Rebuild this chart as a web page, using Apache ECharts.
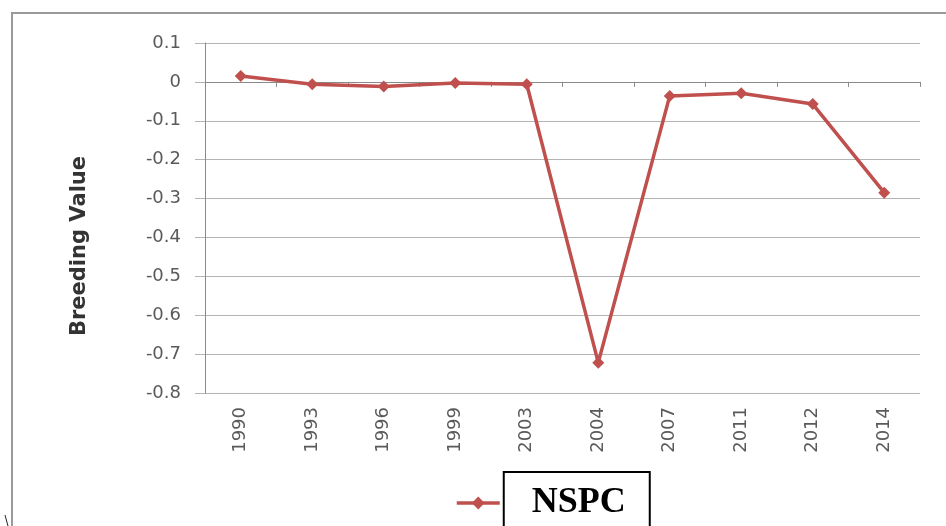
<!DOCTYPE html>
<html>
<head>
<meta charset="utf-8">
<script src="https://cdn.jsdelivr.net/npm/echarts@6/dist/echarts.min.js"></script>
<style>
  html, body { margin: 0; padding: 0; background: #fff; }
  #chart { width: 946px; height: 526px; }
</style>
</head>
<body>
<div id="chart"></div>
<script>
// Breeding value per year for the NSPC line
const years = ['1990', '1993', '1996', '1999', '2003', '2004', '2007', '2011', '2012', '2014'];
const breedingValues = [0.015, -0.006, -0.012, -0.003, -0.006, -0.722, -0.036, -0.029, -0.057, -0.285];
const seriesName = 'NSPC';
const axisTitle = 'Breeding Value';
const yMin = -0.8, yMax = 0.1, yStep = 0.1;

const lineColor = '#C0504D';
const labelColor = '#5a5a5a';
const gridColor = '#b4b4b4';
const axisColor = '#8a8a8a';

const chart = echarts.init(document.getElementById('chart'));
chart.setOption({
  animation: false,
  backgroundColor: '#fff',
  grid: { left: 205, right: 26, top: 43, bottom: 133, containLabel: false },
  xAxis: [
    {
      // category axis crossing at zero, ticks between categories
      type: 'category',
      data: years,
      boundaryGap: true,
      axisLine: { onZero: true, lineStyle: { color: axisColor, width: 1 } },
      axisTick: { show: true, length: 5, lineStyle: { color: axisColor } },
      axisLabel: { show: false }
    },
    {
      // labels sit below the plot area
      type: 'category',
      data: years,
      position: 'bottom',
      boundaryGap: true,
      axisLine: { show: false, onZero: false },
      axisTick: { show: false },
      axisLabel: {
        rotate: 90,
        margin: 14,
        color: labelColor,
        fontFamily: 'DejaVu Sans',
        fontSize: 18
      }
    }
  ],
  yAxis: {
    type: 'value',
    min: yMin,
    max: yMax,
    interval: yStep,
    axisLine: { show: true, lineStyle: { color: axisColor, width: 1 } },
    axisTick: { show: true, length: 10, lineStyle: { color: gridColor } },
    splitLine: { show: true, lineStyle: { color: gridColor, width: 1.2 } },
    axisLabel: {
      margin: 24,
      color: labelColor,
      fontFamily: 'DejaVu Sans',
      fontSize: 18,
      formatter: v => String(Number(v.toFixed(1)))
    }
  },
  legend: {
    left: 455,
    top: 471,
    padding: 0,
    itemWidth: 43,
    itemHeight: 16,
    data: [seriesName],
    lineStyle: { width: 3.5 },
    textStyle: {
      fontFamily: 'Liberation Serif',
      fontWeight: 'bold',
      fontSize: 36,
      color: '#000',
      borderColor: '#000',
      borderWidth: 2,
      padding: [22, 23, 2, 27],
      backgroundColor: '#fff'
    }
  },
  graphic: [
    {
      type: 'rect',
      shape: { x: 12, y: 13, width: 960, height: 560 },
      style: { fill: 'none', stroke: '#9a9a9a', lineWidth: 2 },
      z: -1
    },
    {
      type: 'text',
      x: 80,
      y: 246,
      rotation: Math.PI / 2,
      style: {
        text: axisTitle,
        fontFamily: 'DejaVu Sans',
        fontWeight: 'bold',
        fontSize: 21,
        fill: '#333',
        align: 'center',
        verticalAlign: 'middle'
      }
    },
    {
      type: 'line',
      shape: { x1: 5, y1: 515, x2: 8, y2: 526 },
      style: { stroke: '#222', lineWidth: 1 }
    }
  ],
  series: [
    {
      name: seriesName,
      type: 'line',
      xAxisIndex: 0,
      data: breedingValues,
      symbol: 'diamond',
      symbolSize: 12,
      showAllSymbol: true,
      lineStyle: { color: lineColor, width: 3.5 },
      itemStyle: { color: lineColor }
    }
  ]
});
</script>
</body>
</html>
